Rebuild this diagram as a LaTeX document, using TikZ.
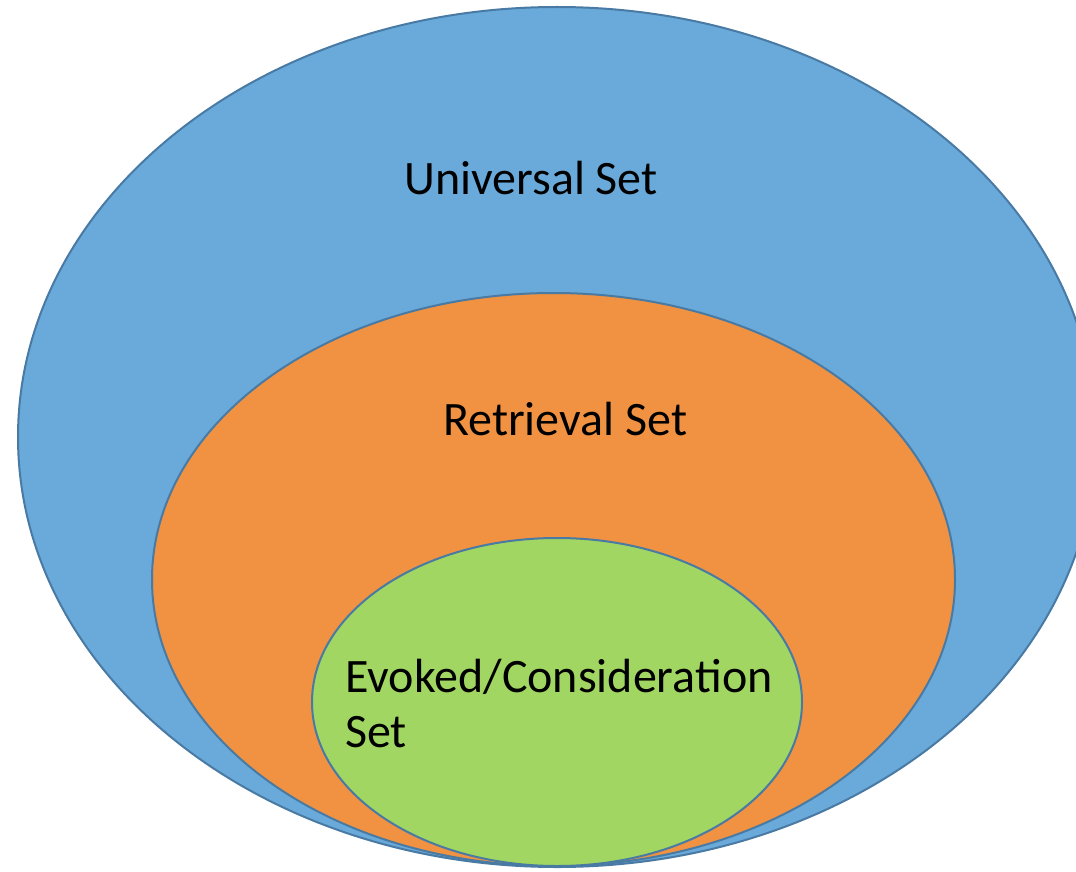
\documentclass[tikz,border=0pt]{standalone}
\usepackage{fontspec}
\setmainfont{Carlito}
\usetikzlibrary{shapes.geometric}
\definecolor{setblue}{RGB}{106,170,218}
\definecolor{setorange}{RGB}{240,146,65}
\definecolor{setgreen}{RGB}{161,214,98}
\definecolor{setline}{RGB}{72,122,164}
\tikzset{
  setshape/.style={ellipse, draw=setline, line width=2pt, inner sep=0pt},
  setlabel/.style={anchor=base west, inner sep=0pt, font=\fontsize{48}{55}\selectfont, align=left}
}
\begin{document}
\begin{tikzpicture}[x=1pt,y=-1pt]
\useasboundingbox (0,0) rectangle (1076,872);
\clip (0,0) rectangle (1076,872);
\node[setshape, fill=setblue, minimum width=1078pt, minimum height=860pt] (universal) at (557,437) {};
\node[setshape, fill=setorange, minimum width=803pt, minimum height=573pt] (retrieval) at (553.5,579.5) {};
\node[setshape, fill=setgreen, minimum width=490pt, minimum height=328pt] (evoked) at (557,702) {};
\node[setlabel] (ulabel) at (404,194) {Universal Set};
\node[setlabel] (rlabel) at (443,435) {Retrieval Set};
\node[setlabel] (elabel) at (345,747) {Evoked/Consideration\\Set};
\end{tikzpicture}
\end{document}
